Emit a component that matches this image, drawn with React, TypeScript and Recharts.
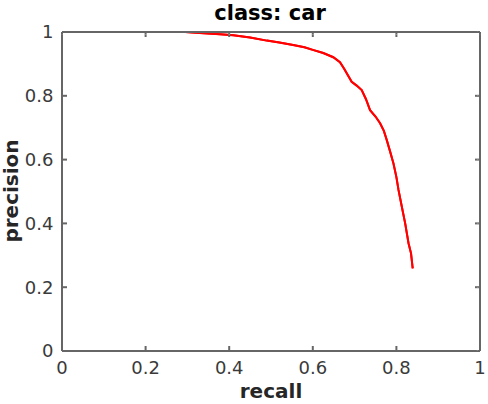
import React from "react";
import { LineChart, Line, XAxis, YAxis } from "recharts";

const recall = [0, 0.1, 0.2, 0.295, 0.33, 0.378, 0.41, 0.45, 0.49, 0.52, 0.553, 0.58, 0.6, 0.625, 0.649, 0.665, 0.675, 0.685, 0.693, 0.705, 0.717, 0.727, 0.737, 0.75, 0.761, 0.77, 0.777, 0.785, 0.793, 0.8, 0.805, 0.813, 0.821, 0.829, 0.835, 0.839];
const precision = [1, 1, 1, 1.0, 0.997, 0.993, 0.99, 0.983, 0.973, 0.967, 0.959, 0.952, 0.944, 0.934, 0.921, 0.905, 0.885, 0.862, 0.844, 0.832, 0.818, 0.79, 0.755, 0.735, 0.714, 0.69, 0.661, 0.625, 0.588, 0.545, 0.505, 0.452, 0.4, 0.338, 0.306, 0.259];
const xTicks = [0, 0.2, 0.4, 0.6, 0.8, 1];
const yTicks = [0, 0.2, 0.4, 0.6, 0.8, 1];
const title = "class: car";
const xLabel = "recall";
const yLabel = "precision";

const data = recall.map((r, i) => ({ recall: r, precision: precision[i] }));

const FONT = "DejaVu Sans";
const AXIS = "#666666";
const TICK_TEXT = { fill: "#3a3a3a", fontSize: 18, fontFamily: FONT };

const labelBase: React.CSSProperties = {
  position: "absolute",
  fontFamily: FONT,
  fontWeight: "bold",
  whiteSpace: "nowrap",
  textAlign: "center",
  margin: 0,
};

export default function App() {
  return (
    <div style={{ position: "absolute", left: 0, top: 0, width: 488, height: 404, background: "#fff" }}>
      <LineChart width={488} height={404} data={data} margin={{ top: 22, right: 0, bottom: 23, left: 22 }}>
        <XAxis
          xAxisId="b"
          dataKey="recall"
          type="number"
          domain={[0, 1]}
          ticks={xTicks}
          height={30}
          tickSize={-5}
          tickMargin={15.5}
          stroke={AXIS}
          strokeWidth={2}
          tick={TICK_TEXT}
          tickFormatter={(v: number) => String(v)}
        />
        <XAxis
          xAxisId="t"
          dataKey="recall"
          type="number"
          domain={[0, 1]}
          ticks={xTicks}
          orientation="top"
          height={10}
          tickSize={-5}
          stroke={AXIS}
          strokeWidth={2}
          tick={{ fontSize: 1, fill: "#ffffff" }}
        />
        <YAxis
          yAxisId="l"
          type="number"
          domain={[0, 1]}
          ticks={yTicks}
          width={40}
          tickSize={-5}
          tickMargin={13.5}
          stroke={AXIS}
          strokeWidth={2}
          tick={TICK_TEXT}
          tickFormatter={(v: number) => String(v)}
        />
        <YAxis
          yAxisId="r"
          type="number"
          domain={[0, 1]}
          ticks={yTicks}
          orientation="right"
          width={8}
          tickSize={-5}
          stroke={AXIS}
          strokeWidth={2}
          tick={{ fontSize: 1, fill: "#ffffff" }}
        />
        <Line
          xAxisId="t"
          yAxisId="r"
          dataKey="precision"
          stroke="#ff0000"
          strokeWidth={2}
          dot={false}
          isAnimationActive={false}
        />
        <Line
          xAxisId="b"
          yAxisId="l"
          dataKey="precision"
          type="linear"
          stroke="#ff0000"
          strokeWidth={2}
          dot={false}
          isAnimationActive={false}
        />
      </LineChart>
      <div style={{ ...labelBase, left: 170, width: 200, top: 3.2, fontSize: 21, lineHeight: "21px", color: "#000" }}>
        {title}
      </div>
      <div style={{ ...labelBase, left: 171, width: 200, top: 381.1, fontSize: 20, lineHeight: "20px", color: "#262626" }}>
        {xLabel}
      </div>
      <div
        style={{
          ...labelBase,
          left: -88.9,
          top: 181,
          width: 200,
          height: 20,
          fontSize: 20,
          lineHeight: "20px",
          color: "#262626",
          transform: "rotate(-90deg)",
        }}
      >
        {yLabel}
      </div>
    </div>
  );
}
